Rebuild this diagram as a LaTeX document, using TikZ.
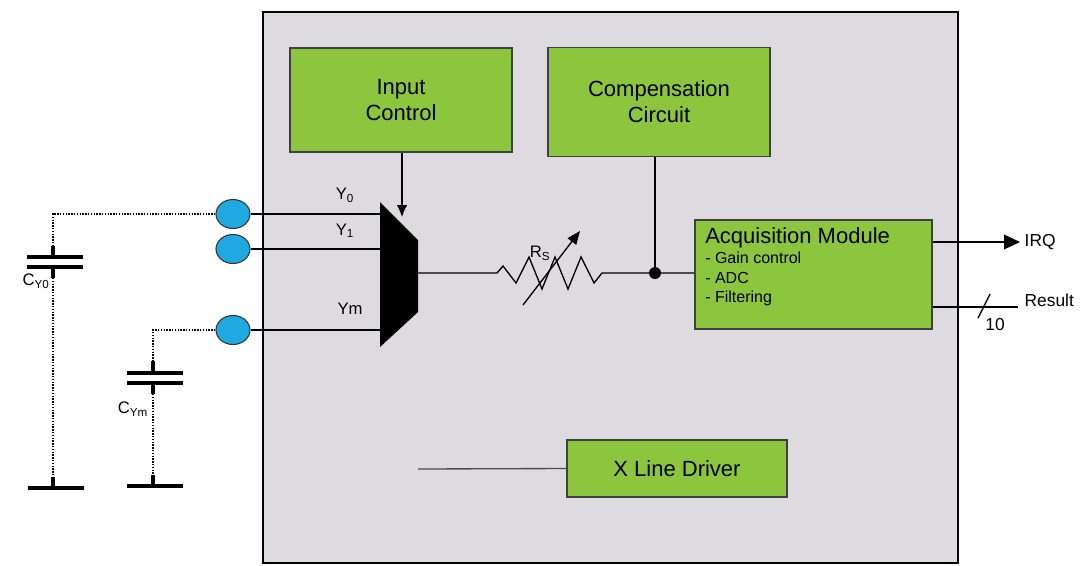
\documentclass[tikz,border=0pt]{standalone}
\usepackage{fontspec}
\setmainfont{Liberation Sans}
\usetikzlibrary{arrows.meta,shapes.geometric}
\definecolor{bg}{RGB}{221,219,223}
\definecolor{gr}{RGB}{140,198,63}
\definecolor{pad}{RGB}{30,170,225}
\begin{document}
\begin{tikzpicture}[x=0.75pt,y=-0.75pt,
  blk/.style={draw=black!75,line width=1.4pt,fill=gr,align=center,font=\fontsize{16.5}{19.5}\selectfont},
  pd/.style={ellipse,draw=black!80,fill=pad,minimum width=34*0.75pt,minimum height=29*0.75pt,inner sep=0,line width=0.8pt},
  dt/.style={densely dotted,line width=1.1pt},
  pl/.style={line width=2.6pt},
  lbl/.style={font=\fontsize{12.5}{14}\selectfont},
  wire/.style={line width=1pt}]
\useasboundingbox (0,0) rectangle (1087,565);
\draw[fill=bg,line width=1.1pt] (263,12) rectangle (958,563);
\node[blk,minimum width=222*0.75pt,minimum height=104*0.75pt] (ic) at (401,100) {Input\\Control};
\node[blk,minimum width=222*0.75pt,minimum height=109*0.75pt] (cc) at (659,102) {Compensation\\Circuit};
\node[blk,minimum width=237*0.75pt,minimum height=109*0.75pt] (am) at (813.5,274.5) {};
\node[anchor=north west,align=left,inner sep=0,font=\fontsize{16.5}{18}\selectfont] at (705,227) {Acquisition Module};
\node[anchor=north west,align=left,inner sep=0,font=\fontsize{12}{14.5}\selectfont] at (705,252) {- Gain control\\- ADC\\- Filtering};
\node[blk,minimum width=220*0.75pt,minimum height=57*0.75pt] (xd) at (677,468.5) {X Line Driver};
\coordinate (xs) at (418,469);
\draw[wire,black!70] (xs) -- (xd.west);
% mux
\fill (380,202) -- (418,240) -- (418,312) -- (380,347) -- cycle;
\coordinate (mo) at (418,273);
\draw[wire,-{Latex[length=9pt,width=8pt]}] (ic.south -| 402,0) -- (402,217);
% pads
\node[pd] (p0) at (233,214) {};
\node[pd] (p1) at (233,249) {};
\node[pd] (pm) at (233,330) {};
\draw[wire] (p0.east) -- (380,214);
\draw[wire] (p1.east) -- (380,249);
\draw[wire] (pm.east) -- (380,330);
\node[lbl] at (345,195) {Y\textsubscript{0}};
\node[lbl] at (345,231) {Y\textsubscript{1}};
\node[lbl] at (350,309) {Ym};
% capacitors
\draw[dt] (p0.west) -- (53,214) -- (53,250);
\draw[pl] (53,246) -- (53,257); \draw[pl] (27,257) -- (83,257); \draw[pl] (27,267) -- (83,267); \draw[pl] (53,267) -- (53,278);
\draw[dt] (53,278) -- (53,480);
\draw[pl] (53,477) -- (53,488); \draw[pl] (28,488) -- (84,488);
\node[lbl] at (36,281) {C\textsubscript{Y0}};
\draw[dt] (pm.west) -- (153,330) -- (153,365);
\draw[pl] (153,361) -- (153,373); \draw[pl] (127,373) -- (183,373); \draw[pl] (127,383) -- (183,383); \draw[pl] (153,383) -- (153,394);
\draw[dt] (153,394) -- (153,478);
\draw[pl] (153,475) -- (153,486); \draw[pl] (127,486) -- (183,486);
\node[lbl] at (133,409) {C\textsubscript{Ym}};
% resistor
\coordinate (r1) at (497,273); \coordinate (r2) at (602,273);
\coordinate (j) at (655,273);
\draw[wire] (mo) -- (r1) -- (503,266) -- (516,283) -- (529,257) -- (542,289) -- (555,257) -- (568,289) -- (581,257) -- (594,283) -- (r2) -- (j) -- (j -| am.west);
\draw[wire,-{Triangle[length=10pt,width=8pt]}] (523,305) -- (580,231);
\node[lbl] at (540,253) {R\textsubscript{S}};
\fill (j) circle (6);
\draw[wire] (cc.south -| j) -- (j);
% outputs
\node[lbl,anchor=west,font=\fontsize{13}{15}\selectfont] (irq) at (1020,242) {IRQ};
\draw[wire,-{Triangle[length=12pt,width=11pt]}] (am.east |- irq) -- (irq.west);
\node[lbl,anchor=west,font=\fontsize{13}{15}\selectfont] (res) at (1020,300) {Result};
\draw[wire] (am.east |- 0,307) -- (1018,307);
\draw[wire] (978,318) -- (990,294);
\node[lbl,font=\fontsize{13}{15}\selectfont] at (995,325) {10};
\end{tikzpicture}
\end{document}
